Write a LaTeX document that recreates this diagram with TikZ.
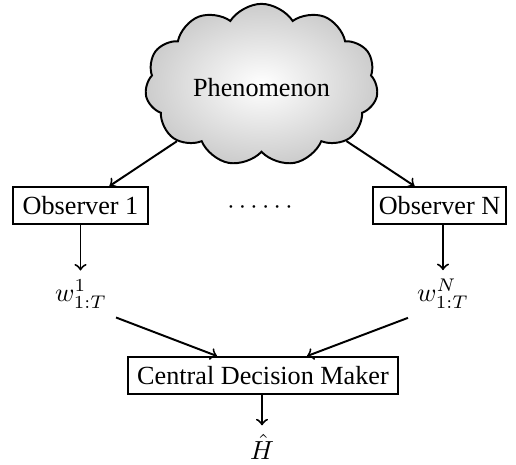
\documentclass[tikz,border=0pt]{standalone}
\usepackage[no-math]{fontspec}
\setmainfont{Liberation Serif}
\usetikzlibrary{shapes.symbols,calc}
\begin{document}
\begin{tikzpicture}[x=0.382pt,y=-0.382pt,
  box/.style={draw,line width=0.75pt,rectangle,minimum height=14.1pt,inner sep=0pt},
  conn/.style={->,line width=0.75pt},
  lbl/.style={inner sep=3.33pt}]
\useasboundingbox (0,0) rectangle (516,465);
\node[cloud,cloud puffs=11,cloud puff arc=115,aspect=1.46,draw,line width=0.75pt,
  minimum width=89pt,minimum height=62pt,inner sep=0pt,
  shading=radial,inner color=white,outer color=black!20] (cloud) at (261.5,85) {};
\node at (261.5,88) (phen) {Phenomenon};
\node[box,minimum width=51.9pt] (obs1) at (80.5,205.5) {Observer 1};
\node[box,minimum width=50.8pt] (obsN) at (439.5,205.5) {Observer N};
\node (dots) at (260,208) {$\cdots\cdots$};
\node[lbl] (w1) at (81,294) {$w^{1}_{1:T}$};
\node[lbl] (wN) at (443,294) {$w^{N}_{1:T}$};
\node[box,minimum width=103pt] (cdm) at (263,375.5) {Central Decision Maker};
\node[lbl] (H) at (262,447) {$\hat{H}$};
\coordinate (t1) at ($(obs1.north)+(29,0)$);
\coordinate (tN) at ($(obsN.north)+(-25,0)$);
\draw[conn] (cloud) -- (t1);
\draw[conn] (cloud) -- (tN);
\draw[conn] (obs1.south) -- (obs1.south |- w1.north);
\draw[conn] (wN.north |- obsN.south) -- (wN.north);
\draw[conn] (w1.south east) -- ($(cdm.north)+(-46,0)$);
\draw[conn] (wN.south west) -- ($(cdm.north)+(44,0)$);
\draw[conn] (cdm.south -| H.north) -- (H.north);
\end{tikzpicture}
\end{document}
